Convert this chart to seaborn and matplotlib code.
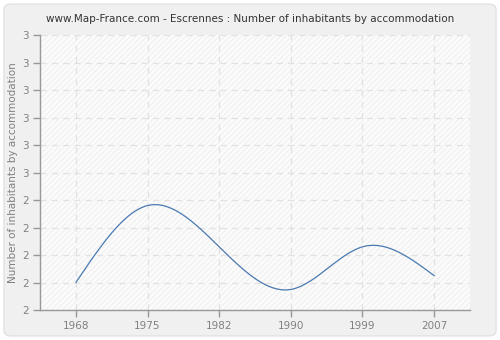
import numpy as np
import pandas as pd
import matplotlib
matplotlib.use("Agg")
import matplotlib.pyplot as plt
import seaborn as sns
from matplotlib.patches import FancyBboxPatch, Rectangle

years = ["1968", "1975", "1982", "1990", "1999", "2007"]
values = [2.10, 2.38, 2.23, 2.075, 2.23, 2.125]
y_ticks = [2.0, 2.1, 2.2, 2.3, 2.4, 2.5, 2.6, 2.7, 2.8, 2.9, 3.0]
y_tick_labels = ["2", "2", "2", "2", "2", "3", "3", "3", "3", "3", "3"]
title = "www.Map-France.com - Escrennes : Number of inhabitants by accommodation"
ylabel = "Number of inhabitants by accommodation"


def natural_spline(x, y, xs):
    x = np.asarray(x, float)
    y = np.asarray(y, float)
    n = len(x)
    h = np.diff(x)
    A = np.zeros((n, n))
    b = np.zeros(n)
    A[0, 0] = 1
    A[-1, -1] = 1
    for i in range(1, n - 1):
        A[i, i - 1] = h[i - 1]
        A[i, i] = 2 * (h[i - 1] + h[i])
        A[i, i + 1] = h[i]
        b[i] = 3 * ((y[i + 1] - y[i]) / h[i] - (y[i] - y[i - 1]) / h[i - 1])
    c = np.linalg.solve(A, b)
    out = np.empty_like(xs)
    for k, t in enumerate(xs):
        i = min(max(np.searchsorted(x, t) - 1, 0), n - 2)
        dx = t - x[i]
        bi = (y[i + 1] - y[i]) / h[i] - h[i] * (2 * c[i] + c[i + 1]) / 3
        di = (c[i + 1] - c[i]) / (3 * h[i])
        out[k] = y[i] + bi * dx + c[i] * dx ** 2 + di * dx ** 3
    return out


idx = np.arange(len(years))
xs = np.linspace(0, len(years) - 1, 300)
ys = natural_spline(idx, values, xs)
df = pd.DataFrame({"x": xs, "y": ys})

sns.set_theme(style="white")
plt.rcParams["font.family"] = ["DejaVu Sans"]
plt.rcParams["hatch.linewidth"] = 0.6

fig = plt.figure(figsize=(5, 3.4), dpi=100)
fig.patch.set_facecolor("white")
bg = FancyBboxPatch((0.008, 0.012), 0.984, 0.976, boxstyle="round,pad=0,rounding_size=0.015",
                    transform=fig.transFigure, facecolor="#f0f0f0", edgecolor="#e2e2e2",
                    linewidth=1, zorder=-10)
fig.patches.append(bg)

ax = fig.add_axes([0.08, 0.088, 0.86, 0.809])
ax.set_facecolor("#fbfbfb")
ax.add_patch(Rectangle((0, 0), 1, 1, transform=ax.transAxes, facecolor="none",
                       edgecolor="#ededed", hatch="//////", linewidth=0, zorder=0))

sns.lineplot(data=df, x="x", y="y", ax=ax, color="#4a79b0", linewidth=0.9, zorder=3)

ax.set_xlim(-0.5, len(years) - 0.5)
ax.set_ylim(2.0, 3.0)
ax.set_xticks(idx)
ax.set_xticklabels(years)
ax.set_yticks(y_ticks)
ax.set_yticklabels(y_tick_labels)
ax.grid(True, color="#e2e2e2", linestyle=(0, (5, 4)), linewidth=0.9, zorder=1)
ax.set_axisbelow(True)

for s in ["top", "right"]:
    ax.spines[s].set_visible(False)
for s in ["left", "bottom"]:
    ax.spines[s].set_color("#999999")
    ax.spines[s].set_linewidth(1)

ax.tick_params(axis="both", colors="#999999", length=5, width=1, labelsize=7.5,
               labelcolor="#808080", direction="out", left=True, bottom=True, pad=3)
ax.set_xlabel("")
ax.set_ylabel(ylabel, color="#808080", fontsize=7.5, labelpad=3)
fig.text(0.5, 0.945, title, ha="center", va="center", fontsize=7.5, color="#333333")

fig.savefig("out.png", dpi=100, facecolor=fig.get_facecolor())
